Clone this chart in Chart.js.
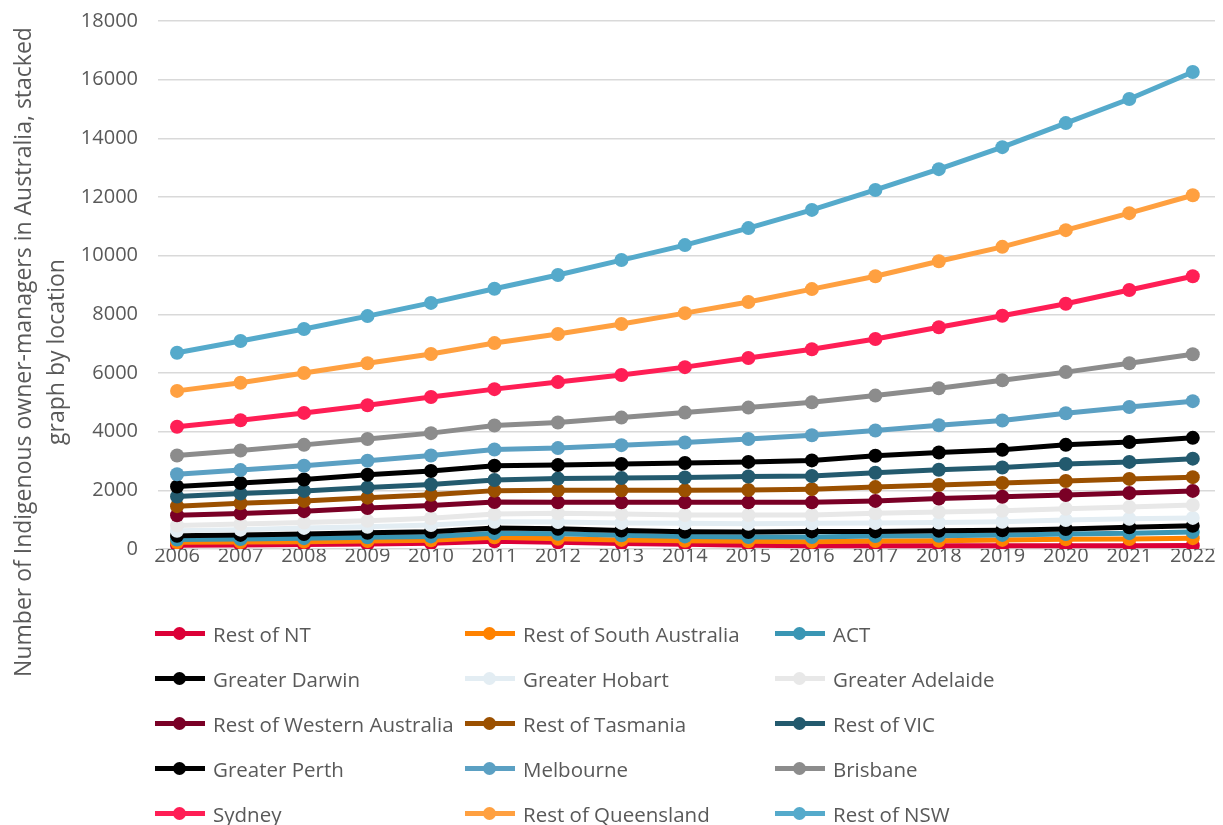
<!DOCTYPE html>
<html>
<head>
<meta charset="utf-8">
<title>Indigenous owner-managers by location</title>
<script src="https://cdn.jsdelivr.net/npm/chart.js@4.4.1/dist/chart.umd.min.js"></script>
<style>
  html, body { margin: 0; padding: 0; background: #ffffff; }
  #wrap { position: relative; width: 1223px; height: 825px; }
  #legend {
    position: absolute; left: 155px; top: 611px;
    display: grid; grid-template-columns: 310px 310px 310px; grid-auto-rows: 45px;
    font-family: "Open Sans", sans-serif; font-size: 20.5px; color: #595959;
  }
  .item { display: flex; align-items: center; white-space: nowrap; }
  .mark { position: relative; width: 50px; height: 5px; margin-right: 8px; }
  .mark span {
    position: absolute; left: 18px; top: -4px; width: 13px; height: 13px; border-radius: 50%;
  }
</style>
</head>
<body>
<div id="wrap">
  <canvas id="chart" width="1223" height="825"></canvas>
  <div id="legend"></div>
</div>
<script>
// Years along the horizontal axis
const years = [2006, 2007, 2008, 2009, 2010, 2011, 2012, 2013, 2014,
  2015, 2016, 2017, 2018, 2019, 2020, 2021, 2022];

// Owner-managers per location (each series is its own layer of the stack)
const restNT       = [130, 140, 150, 170, 200, 260, 230, 190, 160, 130, 110, 110, 110, 110, 110, 110, 120];
const restSA       = [100, 100, 100, 100, 100, 140, 120, 120, 120, 130, 140, 160, 170, 200, 220, 230, 250];
const act          = [90, 100, 120, 130, 130, 140, 170, 160, 150, 150, 160, 170, 170, 170, 180, 200, 210];
const darwin       = [130, 140, 140, 150, 160, 180, 170, 160, 160, 170, 190, 160, 170, 160, 170, 200, 210];
const hobart       = [170, 180, 210, 210, 230, 210, 230, 260, 290, 280, 280, 290, 280, 290, 310, 290, 270];
const adelaide     = [180, 190, 180, 200, 230, 260, 300, 300, 280, 300, 280, 330, 360, 370, 380, 400, 440];
const restWA       = [350, 360, 390, 440, 430, 410, 370, 400, 430, 430, 430, 420, 460, 480, 470, 480, 480];
const restTas      = [310, 350, 350, 350, 370, 390, 410, 410, 410, 420, 450, 470, 460, 470, 480, 480, 470];
const restVIC      = [330, 330, 340, 350, 350, 360, 400, 420, 440, 460, 450, 490, 520, 530, 580, 580, 630];
const perth        = [340, 360, 390, 430, 460, 490, 460, 480, 490, 500, 530, 580, 590, 600, 650, 680, 710];
const melbourne    = [420, 440, 470, 480, 530, 550, 580, 640, 700, 780, 860, 860, 930, 1000, 1080, 1190, 1250];
const brisbane     = [640, 670, 710, 740, 760, 820, 870, 940, 1020, 1070, 1120, 1190, 1260, 1370, 1400, 1490, 1600];
const sydney       = [980, 1030, 1090, 1150, 1230, 1240, 1380, 1450, 1550, 1690, 1810, 1930, 2080, 2200, 2330, 2500, 2660];
const restQLD      = [1220, 1280, 1360, 1430, 1470, 1570, 1640, 1740, 1840, 1910, 2050, 2140, 2250, 2350, 2510, 2620, 2760];
const restNSW      = [1300, 1420, 1500, 1610, 1740, 1850, 2010, 2180, 2320, 2520, 2700, 2940, 3140, 3400, 3650, 3890, 4200];

const seriesNames = ['Rest of NT', 'Rest of South Australia', 'ACT', 'Greater Darwin', 'Greater Hobart',
  'Greater Adelaide', 'Rest of Western Australia', 'Rest of Tasmania', 'Rest of VIC', 'Greater Perth',
  'Melbourne', 'Brisbane', 'Sydney', 'Rest of Queensland', 'Rest of NSW'];
const seriesValues = [restNT, restSA, act, darwin, hobart, adelaide, restWA, restTas, restVIC, perth,
  melbourne, brisbane, sydney, restQLD, restNSW];
const seriesColors = ['#dc0037', '#ff8200', '#3a96b4', '#000000', '#e3edf3', '#e8e8e8', '#7a0026',
  '#9b5000', '#235a6e', '#000000', '#5ba0c3', '#8c8c8c', '#ff1e55', '#ffa040', '#55aacb'];

const yTitleLines = ['Number of Indigenous owner-managers in Australia, stacked', 'graph by location'];
const textColor = '#595959';
const fontFamily = '"Open Sans", sans-serif';

// Running totals so each line sits on top of the one below it
let running = years.map(() => 0);
const datasets = seriesValues.map((vals, i) => {
  running = running.map((v, j) => v + vals[j]);
  return {
    label: seriesNames[i],
    data: years.map((yr, j) => ({ x: yr, y: running[j] })),
    borderColor: seriesColors[i],
    backgroundColor: seriesColors[i],
    pointBackgroundColor: seriesColors[i],
    pointBorderColor: seriesColors[i],
    borderWidth: 5,
    pointRadius: 7,
    pointBorderWidth: 0,
    tension: 0,
    fill: false,
    // later series are painted over earlier ones
    order: seriesNames.length - i
  };
});

// Rotated two-line axis title on the far left
const yTitlePlugin = {
  id: 'yTitle',
  afterDraw(chart) {
    const ctx = chart.ctx;
    ctx.save();
    ctx.translate(0, 352);
    ctx.rotate(-Math.PI / 2);
    ctx.font = '23px ' + fontFamily;
    ctx.fillStyle = textColor;
    ctx.textAlign = 'center';
    ctx.textBaseline = 'middle';
    ctx.fillText(yTitleLines[0], 0, 24);
    ctx.fillText(yTitleLines[1], 0, 57);
    ctx.restore();
  }
};

const ctx = document.getElementById('chart').getContext('2d');
const chart = new Chart(ctx, {
  type: 'line',
  data: { datasets: datasets },
  options: {
    responsive: false,
    animation: false,
    layout: { padding: { top: 21, right: 8, bottom: 236, left: 0 } },
    plugins: {
      legend: { display: false },
      tooltip: { enabled: false }
    },
    scales: {
      x: {
        type: 'linear',
        min: 2005.7,
        max: 2022.35,
        grid: { display: false, drawTicks: false },
        border: { display: false },
        ticks: {
          stepSize: 1,
          includeBounds: false,
          color: textColor,
          font: { family: fontFamily, size: 20 },
          padding: -5,
          maxRotation: 0,
          callback: (v) => String(v)
        },
        afterFit(scale) {
          scale.height = 40;
          scale.paddingLeft = 0;
          scale.paddingRight = 0;
        }
      },
      y: {
        min: 0,
        max: 18000,
        ticks: {
          stepSize: 2000,
          color: textColor,
          font: { family: fontFamily, size: 20 },
          padding: 20,
          callback: (v) => String(v)
        },
        grid: { color: '#d9d9d9', lineWidth: 1.5, drawTicks: false },
        border: { display: false },
        afterFit(scale) {
          scale.width = 158;
          scale.paddingTop = 0;
          scale.paddingBottom = 0;
        }
      }
    }
  },
  plugins: [yTitlePlugin]
});

// Three-column legend under the plot
const legendEl = document.getElementById('legend');
seriesNames.forEach((name, i) => {
  const item = document.createElement('div');
  item.className = 'item';
  const mark = document.createElement('div');
  mark.className = 'mark';
  mark.style.background = seriesColors[i];
  const dot = document.createElement('span');
  dot.style.background = seriesColors[i];
  mark.appendChild(dot);
  const text = document.createElement('div');
  text.textContent = name;
  item.appendChild(mark);
  item.appendChild(text);
  legendEl.appendChild(item);
});
</script>
</body>
</html>
